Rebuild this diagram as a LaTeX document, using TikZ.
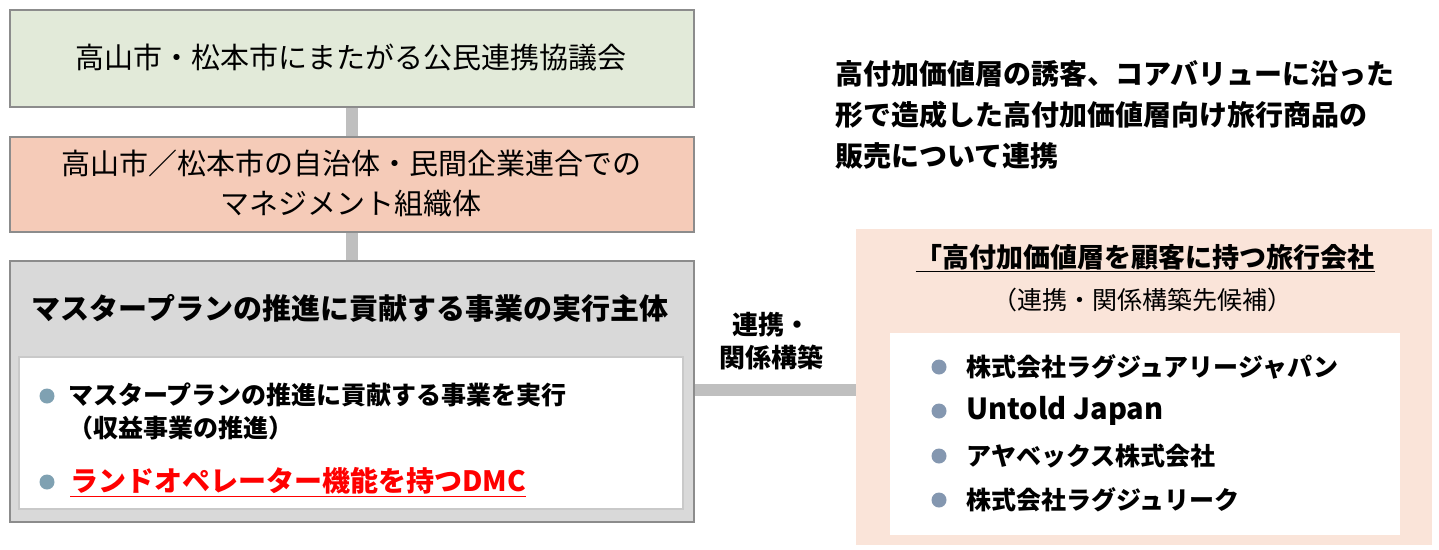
\documentclass[tikz,border=0pt]{standalone}
\usepackage{fontspec}
\newfontfamily\jp{Noto Sans CJK JP}
\definecolor{greenfill}{HTML}{E2EAD9}
\definecolor{peachfill}{HTML}{F5CBB8}
\definecolor{grayfill}{HTML}{D9D9D9}
\definecolor{boxline}{HTML}{8C8C8C}
\definecolor{innerline}{HTML}{C9C9C9}
\definecolor{lightpeach}{HTML}{FAE4D9}
\definecolor{conn}{HTML}{BFBFBF}
\definecolor{bulletA}{HTML}{7FA1B2}
\definecolor{bulletB}{HTML}{8497B0}
\definecolor{redtext}{HTML}{FF0000}
\tikzset{
  box/.style={draw=boxline, line width=2pt, inner sep=0pt},
  conline/.style={draw=conn, line width=12pt},
  txt/.style={inner sep=0pt, font=\jp, text=black},
  bdot/.style={circle, inner sep=0pt, minimum size=15pt},
}
\begin{document}
\begin{tikzpicture}[x=1pt,y=-1pt]
\useasboundingbox (0,0) rectangle (1439,549);
% boxes
\node[box, fill=greenfill, minimum width=684pt, minimum height=97pt, anchor=north west] (b1) at (9,9) {};
\node[box, fill=peachfill, minimum width=684pt, minimum height=95pt, anchor=north west] (b2) at (9,136) {};
\node[box, fill=grayfill, minimum width=684pt, minimum height=261pt, anchor=north west] (b3) at (9,260) {};
\draw[conline] (b1.south) -- (b2.north);
\draw[conline] (b2.south) -- (b3.north);
\node[draw=innerline, line width=2pt, fill=white, minimum width=664pt, minimum height=152pt, anchor=north west] (inner) at (18,356) {};
% right box
\node[fill=lightpeach, minimum width=576pt, minimum height=316pt, anchor=north west, inner sep=0pt] (rb) at (856,229) {};
\node[fill=white, minimum width=510pt, minimum height=202pt, anchor=north west, inner sep=0pt] (rinner) at (890,333) {};
\draw[conline] (b3.east |- 0,390) -- (rb.west |- 0,390);
% texts
\node[txt, font=\jp\fontsize{29}{34}\selectfont] (t1) at (351,58) {高山市・松本市にまたがる公民連携協議会};
\node[txt, font=\jp\fontsize{29}{40}\selectfont, align=center] (t2) at (351,183) {高山市／松本市の自治体・民間企業連合での\\マネジメント組織体};
\node[txt, font=\jp\bfseries\fontsize{29}{34}\selectfont] (t3) at (350,308) {マスタープランの推進に貢献する事業の実行主体};
\node[bdot, fill=bulletA] (d1) at (47,396) {};
\node[txt, font=\jp\bfseries\fontsize{25}{33}\selectfont, align=left, anchor=west] (i1) at (68,411) {マスタープランの推進に貢献する事業を実行\\（収益事業の推進）};
\node[bdot, fill=bulletA] (d2) at (47,482) {};
\node[txt, font=\jp\bfseries\fontsize{28}{34}\selectfont, text=redtext, anchor=west] (i2) at (70,482) {\underline{ランドオペレーター機能を持つDMC}};
% link label
\node[txt, font=\jp\bfseries\fontsize{26}{33}\selectfont, align=center] (lab) at (771,341) {連携・\\関係構築};
% right top text
\node[txt, font=\jp\bfseries\fontsize{28}{41}\selectfont, align=left, anchor=north west] (note) at (835,60) {高付加価値層の誘客、コアバリューに沿った\\形で造成した高付加価値層向け旅行商品の\\販売について連携};
% right box texts
\node[txt, font=\jp\bfseries\fontsize{27}{32}\selectfont] (rt) at (1145,258) {\underline{「高付加価値層を顧客に持つ旅行会社}};
\node[txt, font=\jp\fontsize{25}{30}\selectfont] (rs) at (1142,300) {（連携・関係構築先候補）};
\node[bdot, fill=bulletB] (e1) at (939,367) {};
\node[txt, font=\jp\bfseries\fontsize{25}{30}\selectfont, anchor=west] (r1) at (966,367) {株式会社ラグジュアリージャパン};
\node[bdot, fill=bulletB] (e2) at (939,411) {};
\node[txt, font=\jp\bfseries\fontsize{29}{30}\selectfont, anchor=west] (r2) at (966,411) {Untold Japan};
\node[bdot, fill=bulletB] (e3) at (939,456) {};
\node[txt, font=\jp\bfseries\fontsize{25}{30}\selectfont, anchor=west] (r3) at (966,456) {アヤベックス株式会社};
\node[bdot, fill=bulletB] (e4) at (939,500) {};
\node[txt, font=\jp\bfseries\fontsize{25}{30}\selectfont, anchor=west] (r4) at (966,500) {株式会社ラグジュリーク};
\end{tikzpicture}
\end{document}
